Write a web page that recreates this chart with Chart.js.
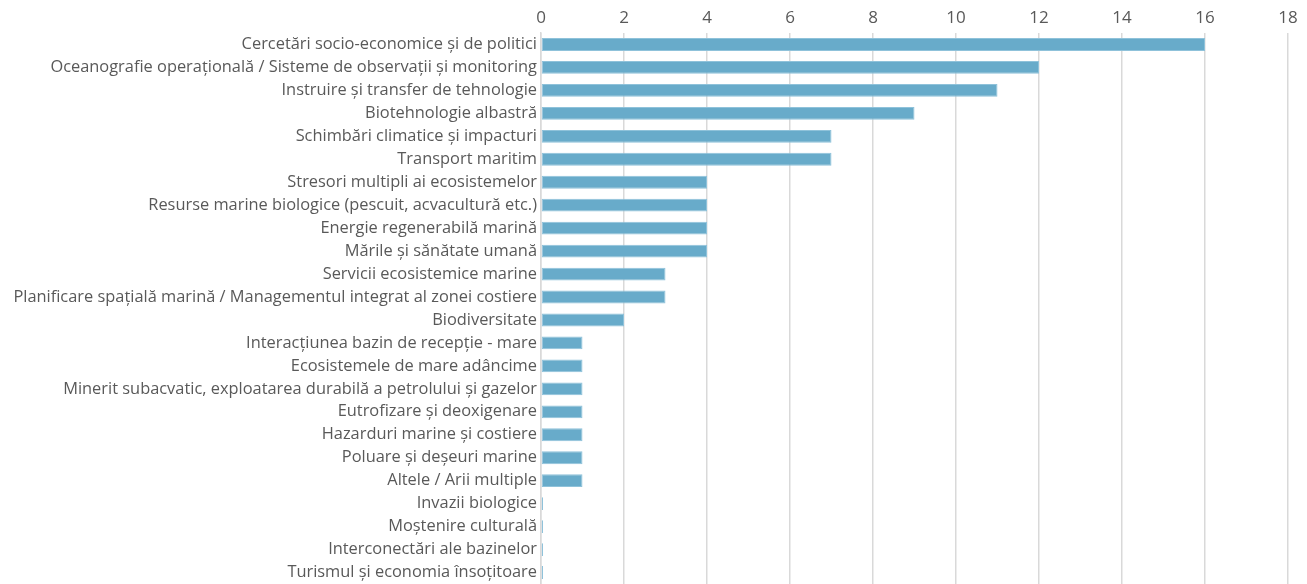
<!DOCTYPE html>
<html>
<head>
<meta charset="utf-8">
<script src="https://cdn.jsdelivr.net/npm/chart.js@4/dist/chart.umd.min.js"></script>
<style>
html,body{margin:0;padding:0;background:#fff;}
#wrap{width:1307px;height:584px;position:relative;}
</style>
</head>
<body>
<div id="wrap"><canvas id="c" width="1307" height="584"></canvas></div>
<script>
const categories = [
  "Cercetări socio-economice și de politici",
  "Oceanografie operațională / Sisteme de observații și monitoring",
  "Instruire și transfer de tehnologie",
  "Biotehnologie albastră",
  "Schimbări climatice și impacturi",
  "Transport maritim",
  "Stresori multipli ai ecosistemelor",
  "Resurse marine biologice (pescuit, acvacultură etc.)",
  "Energie regenerabilă marină",
  "Mările și sănătate umană",
  "Servicii ecosistemice marine",
  "Planificare spațială marină / Managementul integrat al zonei costiere",
  "Biodiversitate",
  "Interacțiunea bazin de recepție - mare",
  "Ecosistemele de mare adâncime",
  "Minerit subacvatic, exploatarea durabilă a petrolului și gazelor",
  "Eutrofizare și deoxigenare",
  "Hazarduri marine și costiere",
  "Poluare și deșeuri marine",
  "Altele / Arii multiple",
  "Invazii biologice",
  "Moștenire culturală",
  "Interconectări ale bazinelor",
  "Turismul și economia însoțitoare"
];
const values = [16, 12, 11, 9, 7, 7, 4, 4, 4, 4, 3, 3, 2, 1, 1, 1, 1, 1, 1, 1, 0, 0, 0, 0];
const xTicks = [0, 2, 4, 6, 8, 10, 12, 14, 16, 18];

const FONT = "'Open Sans', sans-serif";
new Chart(document.getElementById('c'), {
  type: 'bar',
  data: {
    labels: categories,
    datasets: [{
      data: values,
      backgroundColor: '#68abca',
      borderColor: '#8fc2da',
      borderWidth: 1,
      borderSkipped: false,
      barPercentage: 0.56,
      categoryPercentage: 1.0,
      minBarLength: 2
    }]
  },
  options: {
    indexAxis: 'y',
    responsive: false,
    animation: false,
    layout: { padding: { left: 0, right: 19, top: 0, bottom: 0 } },
    plugins: { legend: { display: false }, tooltip: { enabled: false } },
    scales: {
      x: {
        position: 'top',
        min: 0, max: 18,
        afterBuildTicks: (s) => { s.ticks = xTicks.map(v => ({ value: v })); },
        afterFit: (s) => { s.height = 33; s.paddingLeft = 0; s.paddingRight = 0; },
        grid: { color: '#d9d9d9', lineWidth: 1.5, drawTicks: false },
        border: { display: false },
        ticks: { color: '#595959', font: { family: FONT, size: 17 }, padding: 5 }
      },
      y: {
        afterFit: (s) => { s.width = 541; s.paddingTop = 0; s.paddingBottom = 0; },
        grid: { display: false, drawTicks: false },
        border: { display: true, color: '#d9d9d9', width: 1.5 },
        ticks: { color: '#595959', font: { family: FONT, size: 16.4 }, padding: 4, autoSkip: false }
      }
    }
  }
});
</script>
</body>
</html>
